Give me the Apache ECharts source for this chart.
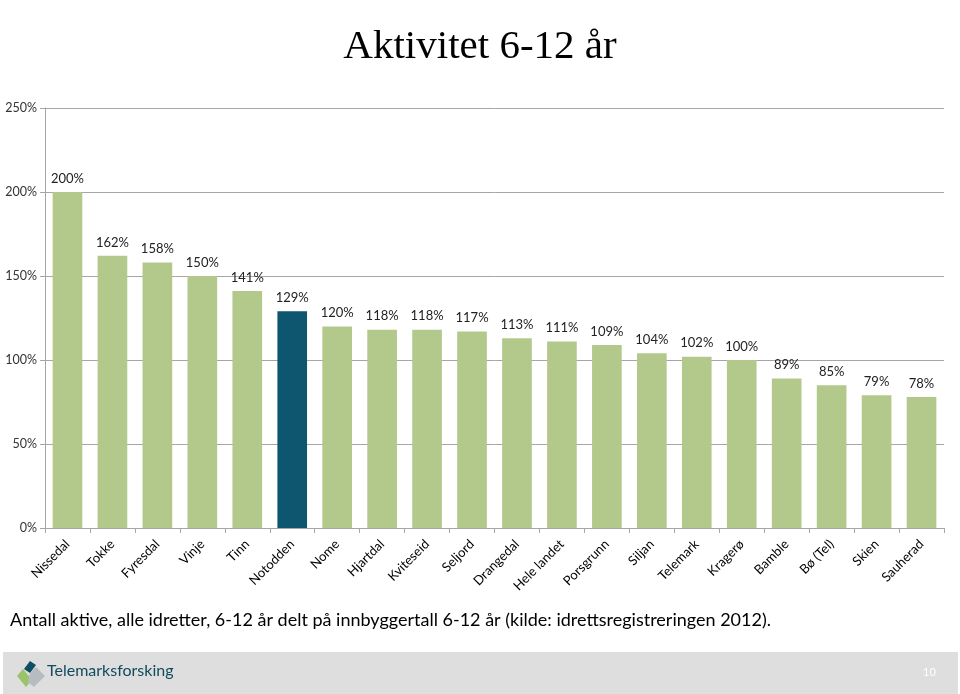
<!DOCTYPE html>
<html>
<head>
<meta charset="utf-8">
<script src="https://cdn.jsdelivr.net/npm/echarts@6/dist/echarts.min.js"></script>
<style>
html,body{margin:0;padding:0;background:#fff;}
#chart{width:960px;height:694px;}
</style>
</head>
<body>
<div id="chart"></div>
<script>
const categories = ['Nissedal','Tokke','Fyresdal','Vinje','Tinn','Notodden','Nome','Hjartdal','Kviteseid','Seljord','Drangedal','Hele landet','Porsgrunn','Siljan','Telemark','Kragerø','Bamble','Bø (Tel)','Skien','Sauherad'];
const values = [200,162,158,150,141,129,120,118,118,117,113,111,109,104,102,100,89,85,79,78];
const highlight = 'Notodden';
const yTicks = [0,50,100,150,200,250];

const green = '#b2c98b';
const teal = '#0e5670';

const chart = echarts.init(document.getElementById('chart'));
chart.setOption({
  animation: false,
  title: {
    text: 'Aktivitet 6-12 år',
    left: 'center',
    top: 22,
    textStyle: {fontFamily: 'Liberation Serif', fontSize: 41, fontWeight: 'normal', color: '#000'}
  },
  grid: {left: 45, right: 16, top: 108, bottom: 166, containLabel: false},
  xAxis: {
    type: 'category',
    data: categories,
    axisLine: {lineStyle: {color: '#a6a6a6'}},
    axisTick: {show: true, length: 5, lineStyle: {color: '#a6a6a6'}},
    axisLabel: {rotate: 45, interval: 0, margin: 14, fontFamily: 'Lato', fontSize: 13, color: '#000'}
  },
  yAxis: {
    type: 'value',
    min: 0, max: 250, interval: 50,
    axisLine: {show: true, lineStyle: {color: '#a6a6a6'}},
    axisTick: {show: true, length: 5, lineStyle: {color: '#a6a6a6'}},
    splitLine: {show: true, lineStyle: {color: '#a6a6a6', width: 1}},
    axisLabel: {formatter: v => yTicks.includes(v) ? v + '%' : '', margin: 8, fontFamily: 'Lato', fontSize: 12.5, color: '#333'}
  },
  series: [{
    type: 'bar',
    data: values.map((v, i) => ({value: v, itemStyle: {color: categories[i] === highlight ? teal : green}})),
    barCategoryGap: '34%',
    label: {show: true, position: 'top', distance: 7, formatter: p => p.value + '%', fontFamily: 'Lato', fontSize: 13, color: '#222'}
  }],
  graphic: [
    {type: 'text', left: 10, top: 611, style: {text: 'Antall aktive, alle idretter, 6-12 år delt på innbyggertall 6-12 år (kilde: idrettsregistreringen 2012).', font: '18px Lato', fill: '#000'}},
    {type: 'rect', shape: {x: 3, y: 652, width: 955, height: 42}, style: {fill: '#dedede'}},
    {type: 'polygon', shape: {points: [[24,669],[30,661],[36,665],[30,673]]}, style: {fill: '#0f4d63'}},
    {type: 'polygon', shape: {points: [[17,676],[23,669],[32,680],[26,687]]}, style: {fill: '#9bc36a'}},
    {type: 'polygon', shape: {points: [[30,673],[36,667],[45,676],[34,687],[28,682]]}, style: {fill: '#b7bcc0'}},
    {type: 'text', left: 47, top: 663, style: {text: 'Telemarksforsking', font: '16px Lato', fill: '#114a5e'}},
    {type: 'text', left: 923, top: 667, style: {text: '10', font: '11px Lato', fill: '#fff'}}
  ]
});
</script>
</body>
</html>
